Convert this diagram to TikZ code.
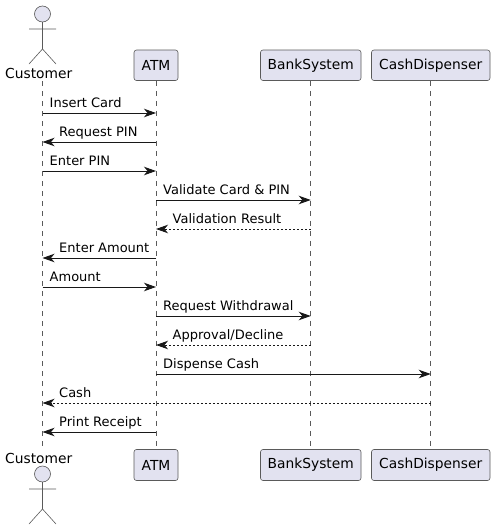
\documentclass[tikz,border=0pt]{standalone}
\usepackage{fontspec}
\setmainfont{DejaVu Sans}
\usetikzlibrary{arrows.meta}
\definecolor{partfill}{HTML}{E2E2F0}
\definecolor{inkc}{HTML}{181818}
\definecolor{thinc}{HTML}{5A5A5A}
\tikzset{
  x=1pt,y=-1pt,
  part/.style={draw=thinc,line width=0.6pt,fill=partfill,rounded corners=2.5pt,inner sep=0,font=\fontsize{13.8}{15}\selectfont},
  actorname/.style={inner sep=0,anchor=base,font=\fontsize{13.8}{15}\selectfont},
  actorline/.style={draw=thinc,line width=0.6pt},
  life/.style={draw=thinc,line width=0.6pt,dash pattern=on 5pt off 5pt},
  msgline/.style={draw=inkc,line width=1pt,-{Stealth[length=12pt,width=8.5pt,inset=3.5pt]}},
  replyline/.style={msgline,dash pattern=on 2pt off 2pt},
  msgtext/.style={inner sep=0,anchor=base west,font=\fontsize{13}{15}\selectfont,text=black},
}
\newcommand{\msgto}[6]{% style from to y textx text
  \coordinate (s#4) at (#2T |- 0,#4);
  \coordinate (e#4) at (#3T |- 0,#4);
  \node[msgtext] (t#4) at (#5,#4-6) {#6};
  \draw[#1] (s#4) -- (e#4);
}
\newcommand{\stickman}[2]{% head-centre x, y
  \draw[actorline,fill=partfill] (#1,#2) circle[radius=8];
  \draw[actorline] (#1,#2+8) -- (#1,#2+35) (#1-13.5,#2+15) -- (#1+13.5,#2+15)
    (#1-13.5,#2+50) -- (#1,#2+35) -- (#1+13.5,#2+50);
}
\begin{document}
\begin{tikzpicture}
\useasboundingbox (0,0) rectangle (495,530);
\node[actorname] (cN) at (38.7,78) {Customer};
\node[actorname] (cS) at (38.7,463) {Customer};
\coordinate (cT) at (42.5,81); \coordinate (cB) at (42.5,447);
\node[part,minimum width=44pt,minimum height=30.5pt] (aT) at (156,65.25) {ATM};
\node[part,minimum width=44pt,minimum height=31pt] (aB) at (156,465) {ATM};
\node[part,minimum width=100.5pt,minimum height=30.5pt] (bT) at (310.75,65.25) {BankSystem};
\node[part,minimum width=100.5pt,minimum height=31pt] (bB) at (310.75,465) {BankSystem};
\node[part,minimum width=118.5pt,minimum height=30.5pt] (dT) at (430.75,65.25) {CashDispenser};
\node[part,minimum width=118.5pt,minimum height=31pt] (dB) at (430.75,465) {CashDispenser};
\stickman{42.5}{14}
\stickman{42.5}{474}
\draw[life] (cT) -- (cB);
\draw[life] (aT) -- (aB);
\draw[life] (bT) -- (bB);
\draw[life] (dT) -- (dB);
\msgto{msgline}{c}{a}{113}{49.5}{Insert Card}
\msgto{msgline}{a}{c}{142}{59}{Request PIN}
\msgto{msgline}{c}{a}{171}{49.5}{Enter PIN}
\msgto{msgline}{a}{b}{200}{163}{Validate Card \& PIN}
\msgto{replyline}{b}{a}{229}{172.5}{Validation Result}
\msgto{msgline}{a}{c}{258}{59}{Enter Amount}
\msgto{msgline}{c}{a}{287}{49.5}{Amount}
\msgto{msgline}{a}{b}{316}{163}{Request Withdrawal}
\msgto{replyline}{b}{a}{345}{172.5}{Approval/Decline}
\msgto{msgline}{a}{d}{374}{163}{Dispense Cash}
\msgto{replyline}{d}{c}{403}{59}{Cash}
\msgto{msgline}{a}{c}{432}{59}{Print Receipt}
\end{tikzpicture}
\end{document}
